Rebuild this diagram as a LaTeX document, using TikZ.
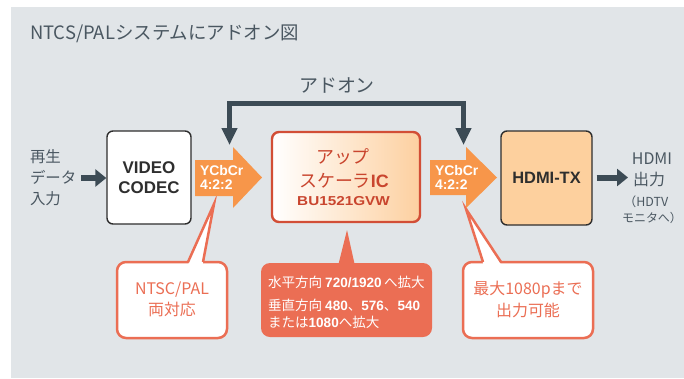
\documentclass[tikz,border=0pt]{standalone}
\usepackage{fontspec}
\setmainfont{Noto Sans CJK JP}
\newfontfamily\hbf{Liberation Sans}
\newfontfamily\hbw{Liberation Sans}[FakeStretch=1.18]
\usetikzlibrary{arrows.meta,calc}
\definecolor{bg}{HTML}{E1E5E8}
\definecolor{arrdark}{HTML}{3C4B55}
\definecolor{boxdark}{HTML}{2E2E2E}
\definecolor{orng}{HTML}{F7964A}
\definecolor{hdmifill}{HTML}{FDD09E}
\definecolor{callred}{HTML}{EB6E54}
\definecolor{upred}{HTML}{D24E36}
\definecolor{uptext}{HTML}{C9452E}
\definecolor{upfill}{HTML}{FDD0A0}
\definecolor{txtgray}{HTML}{4A5761}
\tikzset{
  darkbox/.style={draw=boxdark, line width=1.4bp, rounded corners=6bp, inner sep=0pt},
  upbox/.style={draw=upred, line width=2.4bp, rounded corners=7bp, inner sep=0pt,
    left color=white, right color=upfill},
  fbline/.style={draw=arrdark, line width=5bp, line join=miter,
    {Triangle[length=17bp,width=15bp]}-{Triangle[length=17bp,width=15bp]}},
  ioline/.style={draw=arrdark, line width=6bp,
    -{Triangle[length=11bp,width=17bp]}},
  bigarrow/.style={fill=orng},
  calloutW/.style={draw=callred, fill=white, line width=2.5bp, rounded corners=9bp, inner sep=0pt},
  calloutF/.style={fill=callred, rounded corners=9bp, inner sep=0pt},
  wedge/.style={draw=callred, line width=2.5bp, line join=miter},
  plain/.style={inner sep=0pt, outer sep=0pt},
}
\begin{document}
\begin{tikzpicture}[x=1bp,y=-1bp]
\useasboundingbox (0,0) rectangle (684,378);
\fill[bg] (11,7) rectangle (684,378);

% title
\node[plain, anchor=west, text=txtgray, font=\fontsize{18.5}{22}\selectfont] (title) at (30,34) {NTCS/PALシステムにアドオン図};

% input text
\node[plain, anchor=west, text=txtgray, align=left, font=\fontsize{15.5}{21}\selectfont] (intext) at (30,178) {再生\\データ\\入力};

% boxes
\node[darkbox, fill=white, minimum width=84bp, minimum height=93bp, align=center,
  font=\hbf\bfseries\fontsize{17}{20}\selectfont, text=boxdark] (codec) at (149,177.5) {VIDEO\\CODEC};
\node[upbox, minimum width=148bp, minimum height=90bp] (up) at (346,177) {};
\node[plain, text=uptext, font=\fontsize{18}{22}\selectfont] (up1) at (343,157) {アップ};
\node[plain, text=uptext, font=\fontsize{18}{22}\selectfont] (up2) at (344,180.5) {スケーラ{\hbf\bfseries IC}};
\node[plain, text=uptext, font=\hbw\bfseries\fontsize{13}{16}\selectfont] (up3) at (343.5,201) {BU1521GVW};
\node[darkbox, fill=hdmifill, minimum width=91bp, minimum height=94bp,
  font=\hbf\bfseries\fontsize{16.5}{20}\selectfont, text=boxdark] (hdmi) at (546.5,178) {HDMI-TX};

% callouts (behind the orange arrows)
\node[calloutW, minimum width=110bp, minimum height=76bp] (cL) at (172,300) {};
\coordinate (cLa) at (188,262);
\coordinate (cLb) at (203,262);
\coordinate (cLtip) at (214,204);
\fill[white] ($(cLa)+(0.3,2)$) -- (cLtip) -- ($(cLb)+(-0.3,2)$) -- cycle;
\draw[wedge] (cLa) -- (cLtip) -- (cLb);
\node[plain, text=callred, font=\fontsize{16}{20}\selectfont] (cLt1) at (172,290) {NTSC/PAL};
\node[plain, text=callred, font=\fontsize{16}{20}\selectfont] (cLt2) at (172,309.5) {両対応};

\node[calloutF, minimum width=171bp, minimum height=74bp] (cM) at (346.5,300) {};
\coordinate (cMa) at (338,266);
\coordinate (cMtip) at (347,230);
\coordinate (cMb) at (355,266);
\fill[callred] (cMa) -- (cMtip) -- (cMb) -- cycle;
\node[plain, anchor=west, text=white, font=\fontsize{13.6}{16}\selectfont] (cMt1) at (268,282) {水平方向 {\hbf\bfseries 720/1920}\,へ拡大};
\node[plain, anchor=west, text=white, font=\fontsize{13.6}{16}\selectfont] (cMt2) at (268,305) {垂直方向 {\hbf\bfseries 480}、{\hbf\bfseries 576}、{\hbf\bfseries 540}};
\node[plain, anchor=west, text=white, font=\fontsize{13.6}{16}\selectfont] (cMt3) at (268,322.5) {または{\hbf\bfseries 1080}へ拡大};

\node[calloutW, minimum width=130bp, minimum height=76bp] (cR) at (528,300) {};
\coordinate (cRa) at (483,262);
\coordinate (cRb) at (501,262);
\coordinate (cRtip) at (466,209);
\fill[white] ($(cRa)+(0.3,2)$) -- (cRtip) -- ($(cRb)+(-0.3,2)$) -- cycle;
\draw[wedge] (cRa) -- (cRtip) -- (cRb);
\node[plain, text=callred, font=\fontsize{16}{20}\selectfont] (cRt1) at (528,290) {最大1080pまで};
\node[plain, text=callred, font=\fontsize{16}{20}\selectfont] (cRt2) at (528,310) {出力可能};

% orange arrows
\fill[bigarrow] (195,160) -- (233,160) -- (233,147) -- (262,177.5) -- (233,208) -- (233,196) -- (195,196) -- cycle;
\node[plain, anchor=west, text=white, align=left, font=\hbf\bfseries\fontsize{14}{14}\selectfont] (ya1) at (200,177.5) {YCbCr\\4:2:2};
\fill[bigarrow] (430,160) -- (466,160) -- (466,147) -- (497,177.5) -- (466,208) -- (466,195) -- (430,195) -- cycle;
\node[plain, anchor=west, text=white, align=left, font=\hbf\bfseries\fontsize{14}{14}\selectfont] (ya2) at (435,177.5) {YCbCr\\4:2:2};

% add-on feedback
\coordinate (fbL) at (229.5,145);
\coordinate (fbR) at (463.5,145);
\coordinate (fbTop) at (0,103.5);
\draw[fbline] (fbL) -- (fbL |- fbTop) -- (fbR |- fbTop) -- (fbR);
\node[plain, text=txtgray, font=\fontsize{19}{22}\selectfont] (addon) at (337,85) {アドオン};

% input / output arrows
\coordinate (inStart) at (81,178);
\draw[ioline] (inStart) -- (codec.west |- inStart);
\coordinate (outEnd) at (628,177.5);
\draw[ioline, shorten <=4bp] (hdmi.east |- outEnd) -- (outEnd);

% output text
\node[plain, text=txtgray, font=\fontsize{16}{20}\selectfont] (o1) at (652,158.5) {HDMI};
\node[plain, text=txtgray, font=\fontsize{16}{20}\selectfont] (o2) at (649,179.5) {出力};
\node[plain, text=txtgray, font=\fontsize{12.5}{14}\selectfont] (o3) at (646,202) {（HDTV};
\node[plain, text=txtgray, font=\fontsize{12}{14}\selectfont] (o4) at (652,217.5) {モニタへ）};
\end{tikzpicture}
\end{document}
